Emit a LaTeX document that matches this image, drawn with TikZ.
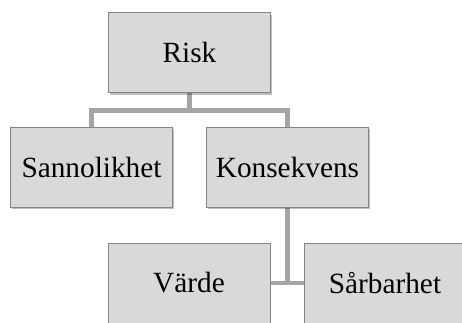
\documentclass[tikz,border=0pt]{standalone}
\usepackage{fontspec}
\setmainfont{Liberation Serif}
\usetikzlibrary{shadows,backgrounds}
\definecolor{boxfill}{HTML}{D9D9D9}
\definecolor{boxline}{HTML}{858585}
\definecolor{linkgray}{HTML}{A5A5A5}
\begin{document}
\begin{tikzpicture}[x=1pt,y=-1pt,
  orgbox/.style={draw=boxline, line width=0.8pt, fill=boxfill,
    minimum width=162pt, minimum height=80pt, inner sep=0pt,
    font=\fontsize{29.3}{33}\selectfont,
    drop shadow={shadow xshift=1.2pt, shadow yshift=-2pt, opacity=0.25, fill=black}},
  link/.style={draw=linkgray, line width=4.5pt}]
\useasboundingbox (0,0) rectangle (462,322);
% boxes
\node[orgbox] (risk) at (189.5,52.5) {Risk};
\node[orgbox] (sann) at (91.5,167) {Sannolikhet};
\node[orgbox] (kons) at (287.5,167) {Konsekvens};
\node[orgbox] (varde) at (189,283) {Värde};
\node[orgbox] (sarb) at (385,283) {Sårbarhet};
% connectors, behind the boxes
\begin{pgfonlayer}{background}
  \coordinate (bus) at (189.5,110.5);
  \draw[link] (risk.south) -- (bus);
  \draw[link] (bus) -| (sann.north);
  \draw[link] (bus) -| (kons.north);
  \draw[link] (kons.south) -- (kons.south |- varde.east);
  \draw[link] (varde.east) -- (sarb.west);
\end{pgfonlayer}
\end{tikzpicture}
\end{document}
